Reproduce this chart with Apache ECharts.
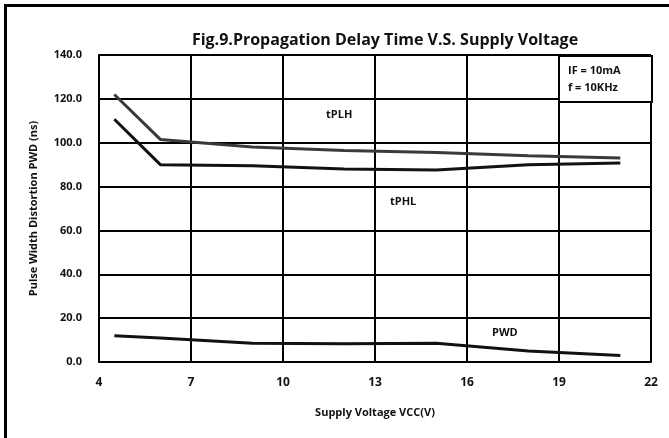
<!DOCTYPE html>
<html>
<head>
<meta charset="utf-8">
<script src="https://cdn.jsdelivr.net/npm/echarts@6/dist/echarts.min.js"></script>
<style>
    html, body { margin: 0; padding: 0; background: #fff; }
    #chart { width: 669px; height: 438px; }
</style>
</head>
<body>
<div id="chart"></div>
<script>
// supply voltage points (V)
var vcc = [4.5, 6, 9, 12, 15, 18, 21];
// delay times (ns)
var tPLH = [122.0, 101.5, 98.0, 96.5, 95.5, 94.0, 93.0];
var tPHL = [110.7, 90.0, 89.5, 88.0, 87.6, 90.0, 90.8];
var pwd = [12.0, 11.0, 8.5, 8.3, 8.5, 5.0, 3.0];
var xTicks = [4, 7, 10, 13, 16, 19, 22];
var yTicks = [0, 20, 40, 60, 80, 100, 120, 140];

var toPairs = function (ys) {
    var out = [];
    vcc.forEach(function (v, i) {
        out.push([v, ys[i]]);
    });
    return out;
};

var font = 'Open Sans';
var lineSeries = function (name, ys, color) {
    return {
        name: name,
        type: 'line',
        data: toPairs(ys),
        symbol: 'none',
        lineStyle: { color: color, width: 3 },
        z: 5
    };
};

var myEcharts = echarts.init(document.getElementById('chart'));
var option = {
    backgroundColor: '#fff',
    animation: false,
    title: {
        text: 'Fig.9.Propagation Delay Time V.S. Supply Voltage',
        left: 380,
        top: 27,
        textAlign: 'center',
        textStyle: { fontFamily: font, fontWeight: 'bold', fontSize: 16, color: '#111' }
    },
    grid: { left: 99, top: 55, width: 552, height: 307 },
    xAxis: {
        type: 'value',
        min: xTicks[0], max: xTicks[xTicks.length - 1], interval: 3,
        name: 'Supply Voltage VCC(V)',
        nameLocation: 'middle',
        nameGap: 45,
        nameTextStyle: { fontFamily: font, fontWeight: 'bold', fontSize: 11, color: '#111' },
        axisLine: { lineStyle: { color: '#000', width: 2 } },
        axisTick: { show: false },
        axisLabel: { fontFamily: font, fontWeight: 'bold', fontSize: 12, color: '#111', margin: 15 },
        splitLine: { lineStyle: { color: '#000', width: 2 } }
    },
    yAxis: {
        type: 'value',
        min: yTicks[0], max: yTicks[yTicks.length - 1], interval: 20,
        name: 'Pulse Width Distortion PWD (ns)',
        nameLocation: 'middle',
        nameGap: 60,
        nameTextStyle: { fontFamily: font, fontWeight: 'bold', fontSize: 11, color: '#111' },
        axisLine: { show: true, lineStyle: { color: '#000', width: 2 } },
        axisTick: { show: false },
        axisLabel: {
            fontFamily: font, fontWeight: 'bold', fontSize: 11, color: '#111', margin: 17,
            formatter: function (v) { return v.toFixed(1); }
        },
        splitLine: { lineStyle: { color: '#000', width: 2 } }
    },
    series: [
        lineSeries('tPLH', tPLH, '#3a3a3a'),
        lineSeries('tPHL', tPHL, '#111'),
        lineSeries('PWD', pwd, '#111')
    ],
    graphic: [
        {
            type: 'rect', left: 3, top: 3, z: 100, silent: true,
            shape: { width: 670, height: 440 },
            style: { fill: 'none', stroke: '#000', lineWidth: 3 }
        },
        {
            type: 'rect', left: 558, top: 55, z: 10,
            shape: { width: 93, height: 46 },
            style: { fill: '#fff', stroke: '#000', lineWidth: 2 }
        },
        {
            type: 'text', left: 568, top: 62, z: 11,
            style: { text: 'IF = 10mA\nf = 10KHz', lineHeight: 17, fontFamily: font, fontWeight: 'bold', fontSize: 11, fill: '#111' }
        },
        {
            type: 'text', left: 326, top: 109, z: 11,
            style: { text: 'tPLH', fontFamily: font, fontWeight: 'bold', fontSize: 11, fill: '#111' }
        },
        {
            type: 'text', left: 390, top: 196, z: 11,
            style: { text: 'tPHL', fontFamily: font, fontWeight: 'bold', fontSize: 11, fill: '#111' }
        },
        {
            type: 'text', left: 492, top: 327, z: 11,
            style: { text: 'PWD', fontFamily: font, fontWeight: 'bold', fontSize: 11, fill: '#111' }
        }
    ]
};
myEcharts.setOption(option);
</script>
</body>
</html>
